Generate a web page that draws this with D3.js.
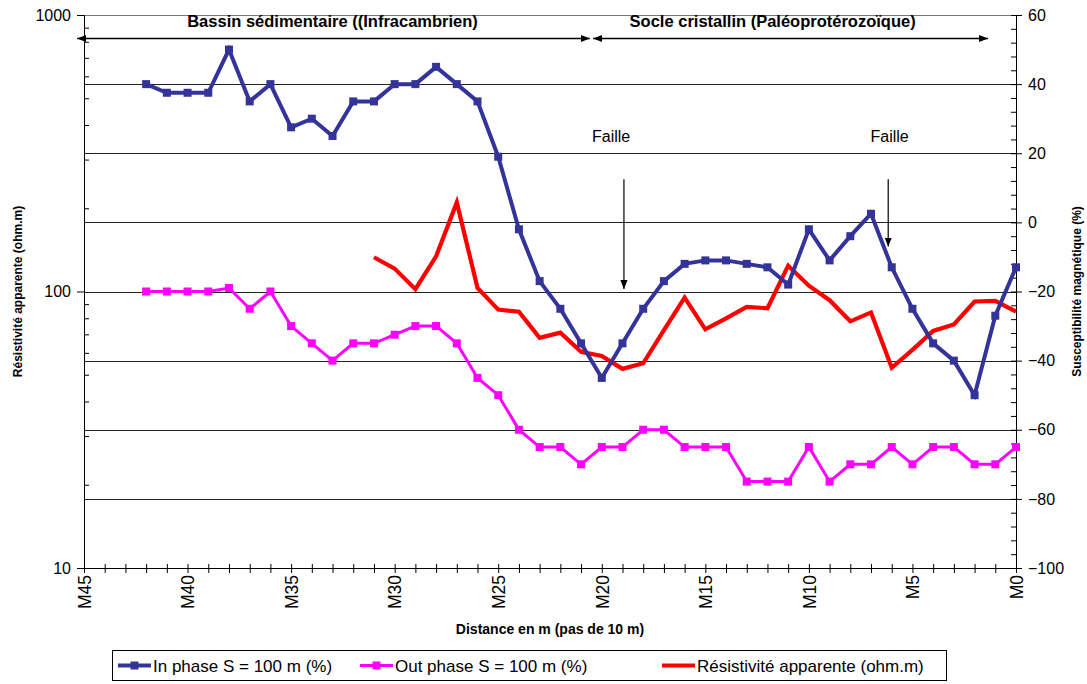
<!DOCTYPE html>
<html>
<head>
<meta charset="utf-8">
<script src="https://cdn.jsdelivr.net/npm/d3@7"></script>
<style>
  body { margin: 0; background: #fff; }
  svg { display: block; }
  text { font-family: "Liberation Sans", Arial, sans-serif; fill: #000; }
</style>
</head>
<body>
<svg id="chart" width="1087" height="684"></svg>
<script>
// Survey stations along the profile (10 m spacing)
const stations = ["M42","M41","M40","M39","M38","M37","M36","M35","M34","M33","M32","M31","M30",
  "M29","M28","M27","M26","M25","M24","M23","M22","M21","M20","M19","M18","M17","M16","M15",
  "M14","M13","M12","M11","M10","M9","M8","M7","M6","M5","M4","M3","M2","M1","M0"];

// In-phase component, S = 100 m (%)
const inPhase = [40, 37.5, 37.5, 37.5, 50, 35, 40, 27.5, 30, 25, 35, 35, 40,
  40, 45, 40, 35, 19, -2, -17, -25, -35, -45, -35, -25, -17, -12, -11,
  -11, -12, -13, -18, -2, -11, -4, 2.5, -13, -25, -35, -40, -50, -27, -13];

// Out-of-phase component, S = 100 m (%)
const outPhase = [-20, -20, -20, -20, -19, -25, -20, -30, -35, -40, -35, -35, -32.5,
  -30, -30, -35, -45, -50, -60, -65, -65, -70, -65, -65, -60, -60, -65, -65,
  -65, -75, -75, -75, -65, -75, -70, -70, -65, -70, -65, -65, -70, -70, -65];

// Apparent resistivity (ohm.m), measured from M31 onwards
const resistivity = [null, null, null, null, null, null, null, null, null, null, null, 133, 121,
  102, 134, 210, 103, 86, 84.5, 68, 71, 60.5, 58.5, 52.5, 55, 72.5, 95, 73,
  80, 88, 87, 124, 105, 93, 78, 84, 53, 61.5, 72, 76, 92, 92.5, 84.5];

const xTickLabels = ["M45","M40","M35","M30","M25","M20","M15","M10","M5","M0"];
const leftTicks = [10, 100, 1000];
const rightTicks = [60, 40, 20, 0, -20, -40, -60, -80, -100];

const seriesNames = ["In phase S = 100 m (%)", "Out phase S = 100 m (%)", "Résistivité apparente (ohm.m)"];
const colors = { inPhase: "#333399", outPhase: "#FF00FF", resistivity: "#FF0000" };

// Geological units across the top and fault annotations
const units = [
  { label: "Bassin sédimentaire ((Infracambrien)", from: 45.33, to: 20.58, center: 33.0 },
  { label: "Socle cristallin (Paléoprotérozoïque)", from: 20.42, to: 1.35, center: 11.75 }
];
const faults = [
  { label: "Faille", labelAt: 19.55, at: 18.93, top: 12.5, tip: -19.3 },
  { label: "Faille", labelAt: 6.1, at: 6.17, top: 12.5, tip: -7.0 }
];

(function draw() {
  const num = s => +s.slice(1);

  const svg = d3.select("#chart");
  const pLeft = 84, pRight = 1016, pTop = 15, pBottom = 568;

  const x = d3.scaleLinear().domain([45, 0]).range([pLeft, pRight]);
  const yL = d3.scaleLog().domain([10, 1000]).range([pBottom, pTop]);
  const yR = d3.scaleLinear().domain([-100, 60]).range([pBottom, pTop]);

  // Horizontal gridlines on the susceptibility ticks
  svg.append("g").selectAll("line")
    .data(rightTicks.filter(v => v > -100))
    .join("line")
    .attr("x1", pLeft).attr("x2", pRight)
    .attr("y1", d => Math.round(yR(d)) + 0.5).attr("y2", d => Math.round(yR(d)) + 0.5)
    .attr("stroke", d => d === 60 ? "#777" : "#222").attr("stroke-width", 1);

  // X axis
  const xAxis = d3.axisBottom(x)
    .tickValues(d3.range(45, -1, -1))
    .tickSize(5)
    .tickFormat(d => xTickLabels.includes("M" + d) ? "M" + d : "");
  const gx = svg.append("g").attr("transform", `translate(0,${pBottom})`).call(xAxis);
  gx.selectAll(".tick line").attr("y1", -4);
  gx.selectAll(".tick text")
    .attr("transform", "rotate(-90)")
    .attr("text-anchor", "end")
    .attr("x", -7).attr("y", 0).attr("dy", "0.36em")
    .style("font-size", "17.5px");

  // Left axis (log resistivity)
  const gl = svg.append("g").attr("transform", `translate(${pLeft},0)`)
    .call(d3.axisLeft(yL).tickValues(leftTicks).tickFormat(d3.format("d")).tickSize(7).tickPadding(6));
  gl.selectAll(".tick text").style("font-size", "16px");
  const minorLog = [];
  [10, 100].forEach(decade => { for (let k = 2; k <= 9; k++) minorLog.push(decade * k); });
  svg.append("g").attr("transform", `translate(${pLeft},0)`)
    .call(d3.axisRight(yL).tickValues(minorLog).tickFormat("").tickSize(5))
    .call(g => g.select(".domain").remove());

  // Right axis (linear susceptibility)
  const gr = svg.append("g").attr("transform", `translate(${pRight},0)`)
    .call(d3.axisRight(yR).tickValues(rightTicks).tickSize(6).tickPadding(6));
  gr.selectAll(".tick line").attr("x1", -5);
  gr.selectAll(".tick text").style("font-size", "16px");
  svg.append("g").attr("transform", `translate(${pRight},0)`)
    .call(d3.axisLeft(yR).tickValues(d3.range(-100, 61, 4).filter(v => v % 20 !== 0)).tickFormat("").tickSize(5))
    .call(g => g.select(".domain").remove());

  svg.selectAll(".tick line, .domain").attr("stroke", "#000");

  // Axis titles
  svg.append("text")
    .attr("transform", `translate(${(pLeft + pRight) / 2},634)`)
    .attr("text-anchor", "middle")
    .style("font-size", "14px").style("font-weight", "bold")
    .text("Distance en m (pas de 10 m)");
  svg.append("text")
    .attr("transform", `translate(22,${(pTop + pBottom) / 2}) rotate(-90)`)
    .attr("text-anchor", "middle")
    .style("font-size", "12px").style("font-weight", "bold")
    .text("Résistivité apparente (ohm.m)");
  svg.append("text")
    .attr("transform", `translate(1081,${(pTop + pBottom) / 2}) rotate(-90)`)
    .attr("text-anchor", "middle")
    .style("font-size", "12px").style("font-weight", "bold")
    .text("Susceptibilité magnétique (%)");

  // Series
  const pts = (vals, y) => stations.map((s, i) => ({ s: num(s), v: vals[i], y }));
  const lineGen = d3.line().defined(d => d.v != null).x(d => x(d.s)).y(d => d.y(d.v));

  svg.append("path").datum(pts(resistivity, yL))
    .attr("fill", "none").attr("stroke", colors.resistivity)
    .attr("stroke-width", 4.2).attr("stroke-linejoin", "miter")
    .attr("d", lineGen);

  svg.append("path").datum(pts(outPhase, yR))
    .attr("fill", "none").attr("stroke", colors.outPhase)
    .attr("stroke-width", 3).attr("d", lineGen);
  svg.append("g").selectAll("rect").data(pts(outPhase, yR)).join("rect")
    .attr("x", d => x(d.s) - 4).attr("y", d => yR(d.v) - 4)
    .attr("width", 8).attr("height", 8).attr("fill", colors.outPhase);

  svg.append("path").datum(pts(inPhase, yR))
    .attr("fill", "none").attr("stroke", colors.inPhase)
    .attr("stroke-width", 4).attr("d", lineGen);
  svg.append("g").selectAll("rect").data(pts(inPhase, yR)).join("rect")
    .attr("x", d => x(d.s) - 4).attr("y", d => yR(d.v) - 4)
    .attr("width", 8).attr("height", 8).attr("fill", colors.inPhase);

  // Arrowheads
  const defs = svg.append("defs");
  defs.append("marker").attr("id", "head").attr("viewBox", "0 0 10 10")
    .attr("refX", 10).attr("refY", 5).attr("markerWidth", 9).attr("markerHeight", 9)
    .attr("markerUnits", "userSpaceOnUse").attr("orient", "auto-start-reverse")
    .append("path").attr("d", "M0,1 L10,5 L0,9 Z").attr("fill", "#000");

  // Geological unit spans
  units.forEach(u => {
    svg.append("line")
      .attr("x1", x(u.from)).attr("x2", x(u.to))
      .attr("y1", 38.5).attr("y2", 38.5)
      .attr("stroke", "#000").attr("stroke-width", 1.5)
      .attr("marker-start", "url(#head)").attr("marker-end", "url(#head)");
    svg.append("text")
      .attr("x", x(u.center)).attr("y", 27)
      .attr("text-anchor", "middle")
      .style("font-size", "16.5px").style("font-weight", "bold")
      .text(u.label);
  });

  // Faults
  faults.forEach(f => {
    svg.append("text")
      .attr("x", x(f.labelAt)).attr("y", yR(23.3))
      .attr("text-anchor", "middle").style("font-size", "16px")
      .text(f.label);
    svg.append("line")
      .attr("x1", x(f.at)).attr("x2", x(f.at))
      .attr("y1", yR(f.top)).attr("y2", yR(f.tip))
      .attr("stroke", "#000").attr("stroke-width", 1.2)
      .attr("marker-end", "url(#head)");
  });

  // Legend
  const lg = svg.append("g");
  lg.append("rect").attr("x", 112.5).attr("y", 650.5).attr("width", 834).attr("height", 30)
    .attr("fill", "#fff").attr("stroke", "#000").attr("stroke-width", 1);
  const legendItems = [
    { name: seriesNames[0], color: colors.inPhase, x0: 118, marker: true, w: 4 },
    { name: seriesNames[1], color: colors.outPhase, x0: 360, marker: true, w: 3 },
    { name: seriesNames[2], color: colors.resistivity, x0: 662, marker: false, w: 4 }
  ];
  legendItems.forEach(it => {
    const cy = 665.5;
    lg.append("line").attr("x1", it.x0).attr("x2", it.x0 + 33).attr("y1", cy).attr("y2", cy)
      .attr("stroke", it.color).attr("stroke-width", it.w);
    if (it.marker) {
      lg.append("rect").attr("x", it.x0 + 12.5).attr("y", cy - 4).attr("width", 8).attr("height", 8)
        .attr("fill", it.color);
    }
    lg.append("text").attr("x", it.x0 + 35).attr("y", cy + 6)
      .style("font-size", "17px").text(it.name);
  });
})();
</script>
</body>
</html>
